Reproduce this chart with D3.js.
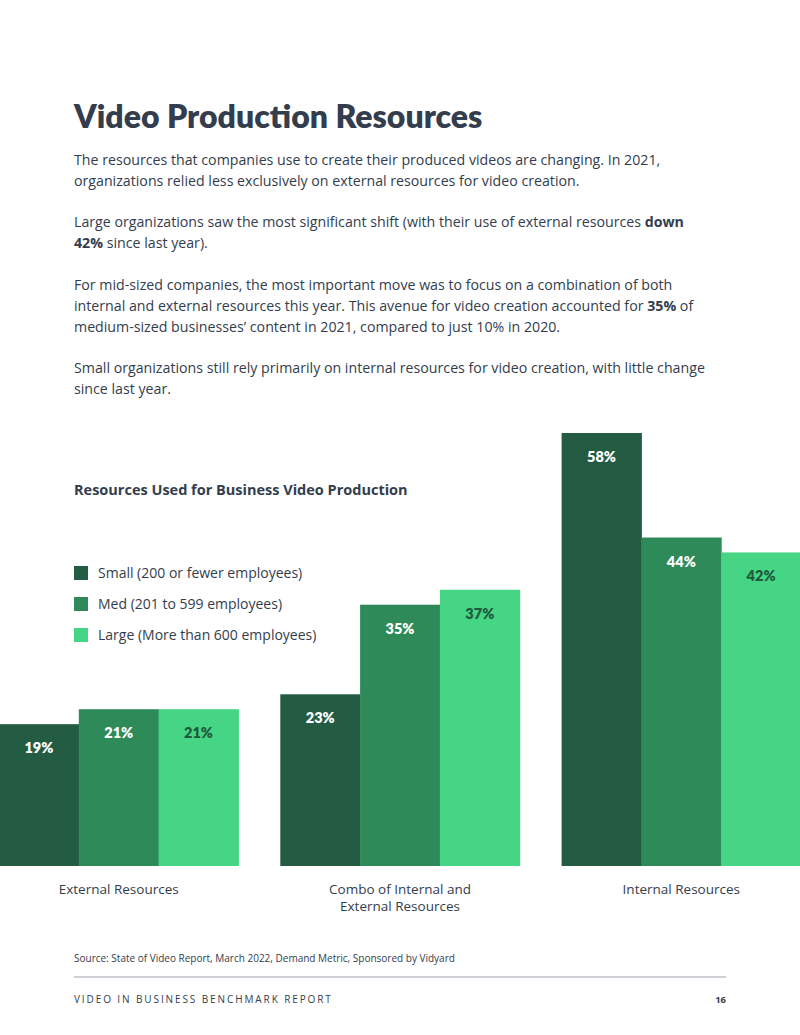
<!DOCTYPE html>
<html><head><meta charset="utf-8">
<script src="https://cdn.jsdelivr.net/npm/d3@7"></script>
<style>body{margin:0;background:#fff;}svg{display:block;font-family:"Open Sans","Noto Sans",sans-serif;}</style>
</head><body>
<svg id="c" width="800" height="1035"></svg>
<script>
const categories = ["External Resources", "Combo of Internal and\nExternal Resources", "Internal Resources"];
const seriesNames = ["Small (200 or fewer employees)", "Med (201 to 599 employees)", "Large (More than 600 employees)"];
const small = [19, 23, 58];
const med = [21, 35, 44];
const large = [21, 37, 42];
const colors = ["#245c43", "#2e8a59", "#45d584"];
const labelColors = ["#ffffff", "#ffffff", "#1f5a3d"];
const series = [small, med, large];

const svg = d3.select("#c");
const ink = "#333d4d";
svg.append("text").attr("x", 74).attr("y", 128).attr("font-size", 32).attr("font-weight", 800)
  .attr("fill", ink).attr("font-family", "Lato, sans-serif").text("Video Production Resources");

const paras = [
  [["The resources that companies use to create their produced videos are changing. In 2021,"], ["organizations relied less exclusively on external resources for video creation."]],
  [["Large organizations saw the most significant shift (with their use of external resources ", ["down"]], [["42%"], " since last year)."]],
  [["For mid-sized companies, the most important move was to focus on a combination of both"], ["internal and external resources this year. This avenue for video creation accounted for ", ["35%"], " of"], ["medium-sized businesses’ content in 2021, compared to just 10% in 2020."]],
  [["Small organizations still rely primarily on internal resources for video creation, with little change"], ["since last year."]]
];
const paraY = [165, 227, 290, 373];
paras.forEach((p, i) => p.forEach((line, j) => {
  const t = svg.append("text").attr("x", 74).attr("y", paraY[i] + j * 21).attr("font-size", 14.2).attr("fill", ink);
  line.forEach(seg => {
    if (Array.isArray(seg)) t.append("tspan").attr("font-weight", 700).text(seg[0]);
    else t.append("tspan").text(seg);
  });
}));

svg.append("text").attr("x", 74).attr("y", 495).attr("font-size", 14.5).attr("font-weight", 700)
  .attr("fill", ink).text("Resources Used for Business Video Production");

seriesNames.forEach((n, i) => {
  svg.append("rect").attr("x", 74).attr("y", 566 + i * 31).attr("width", 14).attr("height", 14).attr("fill", colors[i]);
  svg.append("text").attr("x", 98).attr("y", 578 + i * 31).attr("font-size", 14).attr("fill", ink).text(n);
});

const base = 866;
const y = d3.scaleLinear().domain([0, 58]).range([base, 433]);
const x0 = d3.scaleBand().domain(categories).range([-1, 801]).paddingInner(42 / 282);
const x1 = d3.scaleBand().domain([0, 1, 2]).range([0, x0.bandwidth()]);

categories.forEach((c, ci) => {
  const g = svg.append("g").attr("transform", `translate(${x0(c)},0)`);
  series.forEach((s, si) => {
    g.append("rect").attr("x", x1(si)).attr("y", y(s[ci])).attr("width", x1.bandwidth() + 0.5)
      .attr("height", base - y(s[ci])).attr("fill", colors[si]);
    g.append("text").attr("x", x1(si) + x1.bandwidth() / 2).attr("y", y(s[ci]) + 29)
      .attr("text-anchor", "middle").attr("font-size", 14.5).attr("font-weight", 800)
      .attr("font-family", "Lato, sans-serif").attr("fill", labelColors[si]).text(s[ci] + "%");
  });
  c.split("\n").forEach((l, li) => {
    svg.append("text").attr("x", x0(c) + x0.bandwidth() / 2).attr("y", 894 + li * 17)
      .attr("text-anchor", "middle").attr("font-size", 13.5).attr("fill", ink).text(l);
  });
});

svg.append("text").attr("x", 74).attr("y", 962).attr("font-size", 10).attr("fill", ink)
  .text("Source: State of Video Report, March 2022, Demand Metric, Sponsored by Vidyard");
svg.append("line").attr("x1", 74).attr("x2", 726).attr("y1", 977).attr("y2", 977).attr("stroke", "#9aa0a8").attr("stroke-width", 1);
svg.append("text").attr("x", 74).attr("y", 1003).attr("font-size", 10).attr("letter-spacing", 1.9).attr("fill", ink)
  .text("VIDEO IN BUSINESS BENCHMARK REPORT");
svg.append("text").attr("x", 726).attr("y", 1003).attr("font-size", 9.5).attr("font-weight", 700).attr("text-anchor", "end").attr("fill", ink).text("16");
</script>
</body></html>
